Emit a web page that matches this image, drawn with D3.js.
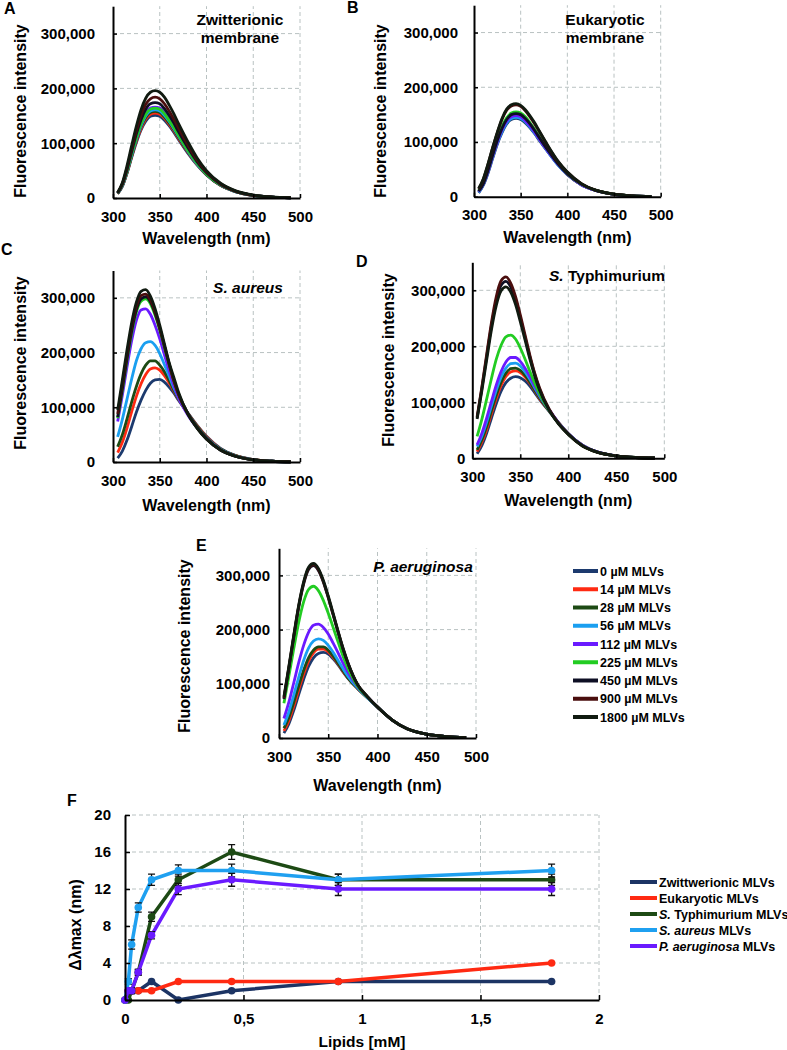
<!DOCTYPE html>
<html>
<head>
<meta charset="utf-8">
<script src="https://cdn.jsdelivr.net/npm/d3@7"></script>
<style>
  body { margin: 0; background: #fff; }
  text { font-family: "Liberation Sans", Arial, sans-serif; font-weight: bold; fill: #000; }
</style>
</head>
<body>
<svg id="fig" width="787" height="1050"></svg>
<script>
// ---- data: emission spectra (intensity in thousands) ----
const wavelengths = [305, 310, 315, 320, 325, 330, 335, 340, 345, 350, 355, 360, 365, 370, 380, 390, 400, 415, 430, 450, 470, 490];
const concLabels = ["0 µM MLVs", "14 µM MLVs", "28 µM MLVs", "56 µM MLVs", "112 µM MLVs", "225 µM MLVs", "450 µM MLVs", "900 µM MLVs", "1800 µM MLVs"];
const concColors = ["#1c3a6e", "#ff2a12", "#1d4a14", "#1a9ff0", "#6a1aff", "#22cc22", "#0e0f24", "#4a0e0e", "#101a10"];

const zwitterionic = [
  [8, 21, 45, 74, 101, 124, 140, 149, 151, 149, 142, 132, 120, 107, 82, 60, 42, 23, 12, 4.5, 1.5, 0.5],
  [8, 22, 46, 76, 104, 127, 144, 153, 155, 153, 146, 135, 123, 109, 84, 61, 43, 23, 12, 4.5, 1.5, 0.5],
  [8, 22, 47, 77, 106, 130, 147, 156, 158, 156, 148, 137, 125, 111, 85, 62, 43, 23, 12, 4.5, 1.5, 0.5],
  [9, 23, 48, 79, 108, 132, 150, 159, 161, 159, 151, 140, 127, 113, 86, 62, 44, 24, 12, 4.5, 1.5, 0.5],
  [9, 24, 50, 82, 111, 136, 154, 164, 166, 164, 156, 144, 131, 116, 88, 64, 45, 24, 12.5, 4.8, 1.6, 0.5],
  [9, 24, 49, 81, 110, 135, 153, 162, 164, 162, 154, 142, 129, 115, 87, 63, 44, 24, 12.5, 4.8, 1.6, 0.5],
  [9, 25, 52, 85, 117, 143, 162, 172, 174, 172, 163, 151, 137, 121, 92, 66, 46, 25, 13, 5, 1.7, 0.5],
  [10, 26, 55, 90, 123, 151, 171, 181, 184, 181, 172, 159, 144, 128, 97, 69, 48, 26, 13, 5, 1.7, 0.5],
  [10, 28, 59, 96, 131, 161, 182, 193, 196, 193, 184, 170, 154, 136, 103, 73, 50, 27, 14, 5.5, 1.8, 0.6]
];
const eukaryotic = [
  [7, 21, 43, 70, 96, 117, 133, 141, 143, 141, 135, 126, 115, 103, 80, 58, 40, 22, 11.5, 4.3, 1.5, 0.5],
  [9, 23, 46, 74, 100, 122, 137, 145, 147, 145, 138, 129, 118, 105, 81, 59, 41, 22, 11.5, 4.3, 1.5, 0.5],
  [9, 23, 47, 75, 102, 124, 140, 148, 150, 148, 141, 131, 120, 107, 82, 59, 41, 22, 11.5, 4.3, 1.5, 0.5],
  [8, 22, 45, 72, 98, 119, 135, 143, 145, 143, 137, 127, 116, 104, 80, 58, 41, 22, 11.5, 4.3, 1.5, 0.5],
  [9, 23, 46, 74, 100, 122, 138, 146, 148, 146, 139, 129, 118, 105, 81, 59, 41, 22, 11.5, 4.3, 1.5, 0.5],
  [11, 25, 50, 78, 105, 128, 144, 153, 155, 153, 146, 135, 123, 110, 84, 61, 42, 23, 12, 4.5, 1.5, 0.5],
  [10, 24, 48, 76, 103, 125, 141, 150, 152, 150, 143, 133, 121, 108, 83, 60, 42, 23, 12, 4.5, 1.5, 0.5],
  [14, 32, 59, 89, 117, 141, 158, 166, 168, 165, 157, 146, 133, 119, 90, 64, 45, 24, 12, 4.5, 1.5, 0.5],
  [15, 33, 60, 90, 118, 143, 160, 168, 170, 167, 159, 148, 135, 120, 91, 65, 45, 24, 12, 4.5, 1.5, 0.5]
];
const sAureus = [
  [7, 20, 40, 65, 91, 113, 131, 144, 150, 151, 146, 137, 126, 113, 90, 67, 47, 25, 12.5, 4.5, 1.5, 0.5],
  [17, 36, 62, 92, 120, 143, 160, 170, 172, 168, 158, 145, 130, 115, 89, 66, 46, 24, 12, 4.3, 1.5, 0.5],
  [28, 50, 79, 110, 138, 161, 177, 185, 185, 177, 165, 149, 132, 116, 89, 65, 45, 24, 12, 4.3, 1.5, 0.5],
  [46, 78, 115, 152, 185, 207, 218, 220, 213, 198, 178, 157, 136, 117, 88, 63, 44, 23, 11.5, 4.2, 1.4, 0.5],
  [74, 122, 174, 222, 259, 278, 280, 270, 250, 225, 196, 167, 140, 118, 86, 62, 42, 22, 11, 4, 1.4, 0.5],
  [80, 131, 186, 236, 274, 294, 298, 289, 268, 241, 209, 178, 148, 124, 88, 62, 42, 22, 11, 4, 1.4, 0.5],
  [82, 134, 189, 240, 278, 298, 302, 293, 272, 244, 212, 180, 150, 125, 89, 63, 43, 22, 11, 4, 1.4, 0.5],
  [88, 142, 197, 247, 284, 304, 307, 296, 274, 245, 212, 179, 149, 124, 88, 62, 42, 22, 11, 4, 1.4, 0.5],
  [95, 150, 205, 255, 292, 312, 315, 303, 280, 250, 216, 182, 155, 128, 88, 62, 42, 22, 11, 4, 1.4, 0.5]
];
const sTyphimurium = [
  [8, 23, 45, 72, 98, 120, 135, 143, 146, 144, 138, 129, 117, 105, 84, 63, 44, 23, 11.5, 4.4, 1.5, 0.5],
  [12, 29, 52, 80, 107, 130, 146, 154, 156, 153, 145, 134, 121, 107, 85, 63, 44, 23, 11.5, 4.3, 1.5, 0.5],
  [15, 33, 57, 85, 113, 136, 152, 160, 161, 157, 148, 136, 122, 108, 85, 63, 44, 23, 11.5, 4.3, 1.5, 0.5],
  [21, 40, 65, 94, 122, 145, 161, 169, 170, 165, 154, 141, 126, 111, 86, 63, 44, 23, 11.5, 4.3, 1.5, 0.5],
  [24, 45, 72, 102, 131, 155, 172, 180, 180, 173, 161, 146, 129, 113, 87, 63, 44, 23, 11.5, 4.3, 1.5, 0.5],
  [39, 70, 106, 143, 177, 202, 217, 220, 213, 197, 177, 155, 134, 115, 86, 62, 43, 22, 11, 4.2, 1.4, 0.5],
  [72, 125, 182, 237, 282, 309, 316, 306, 283, 251, 216, 181, 150, 124, 87, 62, 43, 22, 11, 4.2, 1.4, 0.5],
  [74, 128, 186, 243, 289, 317, 324, 313, 289, 256, 220, 184, 152, 126, 88, 62, 43, 22, 11, 4.2, 1.4, 0.5],
  [70, 121, 176, 230, 273, 299, 306, 297, 275, 244, 211, 177, 147, 122, 86, 61, 43, 22, 11, 4.2, 1.4, 0.5]
];
const pAeruginosa = [
  [9, 26, 51, 80, 108, 132, 148, 156, 158, 155, 146, 135, 122, 110, 91, 74, 57, 33, 17, 7, 2.5, 0.8],
  [13, 32, 59, 89, 118, 142, 157, 164, 164, 159, 149, 137, 123, 111, 91, 74, 57, 33, 17, 7, 2.5, 0.8],
  [18, 38, 66, 96, 125, 148, 162, 168, 168, 162, 151, 138, 124, 111, 91, 74, 57, 33, 17, 7, 2.5, 0.8],
  [24, 48, 79, 112, 143, 166, 179, 183, 180, 171, 158, 143, 128, 114, 92, 74, 57, 33, 17, 7, 2.5, 0.8],
  [36, 66, 102, 139, 171, 195, 208, 210, 204, 192, 175, 157, 138, 121, 94, 75, 57, 33, 17, 7, 2.5, 0.8],
  [64, 114, 165, 213, 251, 274, 280, 272, 254, 230, 204, 177, 151, 129, 95, 75, 57, 33, 17, 7, 2.5, 0.8],
  [72, 128, 186, 241, 284, 311, 318, 309, 288, 259, 227, 195, 164, 138, 98, 76, 57, 33, 17, 7, 2.5, 0.8],
  [74, 130, 188, 243, 286, 313, 320, 311, 289, 260, 228, 196, 165, 138, 98, 76, 57, 33, 17, 7, 2.5, 0.8],
  [76, 132, 190, 245, 288, 315, 322, 313, 291, 262, 230, 197, 166, 139, 98, 76, 57, 33, 17, 7, 2.5, 0.8]
];
const wavelengthTicks = [300, 350, 400, 450, 500];
const intensityTicks = [0, 100, 200, 300];

// ---- data: panel F, shift of emission maximum ----
const lipidsMM = [0, 0.014, 0.028, 0.056, 0.112, 0.225, 0.45, 0.9, 1.8];
const shiftColors = ["#1c3464", "#ff2a12", "#1d4a14", "#1fa0f0", "#6a1aff"];
const shiftZwit = [0, 1, 1, 1, 2, 0, 1, 2, 2];
const shiftEuk = [0, 1, 1, 1, 1, 2, 2, 2, 4];
const shiftTyph = [0, 0, 1, 3, 9, 13, 16, 13, 13];
const shiftAureus = [0, 2, 6, 10, 13, 14, 14, 13, 14];
const shiftAerug = [0, 1, 1, 3, 7, 12, 13, 12, 12];
const errZwit = [0, 0, 0, 0, 0, 0, 0, 0, 0];
const errEuk = [0, 0, 0, 0, 0, 0, 0, 0, 0];
const errTyph = [0, 0, 0.3, 0.3, 0.5, 0.6, 0.8, 0.6, 0.6];
const errAureus = [0, 0.3, 0.5, 0.5, 0.6, 0.6, 0.7, 0.6, 0.7];
const errAerug = [0, 0, 0.3, 0.3, 0.4, 0.6, 0.7, 0.7, 0.7];
const shiftTicks = [0, 4, 8, 12, 16, 20];
const lipidTicks = [0, 0.5, 1, 1.5, 2];

const svg = d3.select("#fig");
const gridColor = "#b9c2c2";

function richText(sel, parts) {
  parts.forEach(p => {
    sel.append("tspan").attr("font-style", p[1] ? "italic" : "normal").text(p[0]);
  });
}

const panels = [
  { letter: "A", lx: 4, ly: 14, data: zwitterionic, left: 113, right: 300, bottom: 198, top: 6.2, pad: 18,
    ytx: 20, yty: 111, xty: 244, notes: [{ x: 240, y: 25, parts: [["Zwitterionic", 0]] }, { x: 240, y: 43, parts: [["membrane", 0]] }] },
  { letter: "B", lx: 347, ly: 13, data: eukaryotic, left: 474, right: 660.7, bottom: 196.7, top: 5.2, pad: 16,
    ytx: 380, yty: 111, xty: 243, notes: [{ x: 605, y: 25, parts: [["Eukaryotic", 0]] }, { x: 605, y: 43, parts: [["membrane", 0]] }] },
  { letter: "C", lx: 1, ly: 255, data: sAureus, left: 113, right: 300, bottom: 462, top: 270.5, pad: 18,
    ytx: 20, yty: 363, xty: 511, notes: [{ x: 248, y: 293, parts: [["S. aureus", 1]] }] },
  { letter: "D", lx: 356, ly: 267, data: sTyphimurium, left: 472.3, right: 664.3, bottom: 458.3, top: 262.3, pad: 7,
    ytx: 388, yty: 360, xty: 506, notes: [{ x: 607, y: 281, parts: [["S.", 1], [" Typhimurium", 0]] }] },
  { letter: "E", lx: 196, ly: 551, data: pAeruginosa, left: 279, right: 476, bottom: 738, top: 548.3, pad: 9,
    ytx: 184, yty: 646, xty: 791, notes: [{ x: 423, y: 572, parts: [["P. aeruginosa", 1]] }] }
];

function styleAxis(g) {
  g.select(".domain").attr("stroke", "#000").attr("stroke-width", 2);
  g.selectAll(".tick line").attr("stroke", "#000").attr("stroke-width", 1.5);
  g.selectAll(".tick text").style("font-size", "15px").style("font-weight", "bold").attr("fill", "#000")
    .style("font-family", '"Liberation Sans", Arial, sans-serif');
}

panels.forEach(p => {
  const x = d3.scaleLinear().domain([300, 500]).range([p.left, p.right]);
  const y = d3.scaleLinear().domain([0, 350]).range([p.bottom, p.top]);
  const g = svg.append("g");

  g.selectAll(".vgrid").data(wavelengthTicks.slice(1)).join("line")
    .attr("x1", d => x(d)).attr("x2", d => x(d))
    .attr("y1", y(0)).attr("y2", y(350))
    .attr("stroke", gridColor).attr("stroke-width", 1).attr("stroke-dasharray", "4,3");
  g.selectAll(".hgrid").data(intensityTicks.slice(1)).join("line")
    .attr("x1", x(300)).attr("x2", x(500))
    .attr("y1", d => y(d)).attr("y2", d => y(d))
    .attr("stroke", gridColor).attr("stroke-width", 1).attr("stroke-dasharray", "4,3");

  const line = d3.line()
    .x((d, i) => x(wavelengths[i]))
    .y(d => y(d))
    .curve(d3.curveMonotoneX);
  g.selectAll(".curve").data(p.data).join("path")
    .attr("fill", "none")
    .attr("stroke", (d, i) => concColors[i])
    .attr("stroke-width", 2.8)
    .attr("d", line);

  g.append("g")
    .attr("transform", "translate(0," + p.bottom + ")")
    .call(d3.axisBottom(x).tickValues(wavelengthTicks).tickSizeInner(-4).tickSizeOuter(0).tickPadding(13))
    .call(styleAxis);
  g.append("g")
    .attr("transform", "translate(" + p.left + ",0)")
    .call(d3.axisLeft(y).tickValues(intensityTicks).tickSizeInner(-4).tickSizeOuter(0).tickPadding(p.pad)
      .tickFormat(d => d3.format(",")(d * 1000)))
    .call(styleAxis);

  g.append("text").attr("x", p.lx).attr("y", p.ly).style("font-size", "16px").text(p.letter);
  g.append("text")
    .attr("transform", "translate(" + p.ytx + "," + p.yty + ") rotate(-90)")
    .attr("dy", "0.35em")
    .style("text-anchor", "middle").style("font-size", "16px")
    .text("Fluorescence intensity");
  g.append("text")
    .attr("x", (p.left + p.right) / 2).attr("y", p.xty)
    .style("text-anchor", "middle").style("font-size", "16px")
    .text("Wavelength (nm)");
  p.notes.forEach(n => {
    const t = g.append("text").attr("x", n.x).attr("y", n.y)
      .style("text-anchor", "middle").style("font-size", "15.5px");
    richText(t, n.parts);
  });
});

// legend for spectra
const specLegend = svg.append("g");
concLabels.forEach((lab, i) => {
  const yy = 571 + i * 18.25;
  specLegend.append("line").attr("x1", 573).attr("x2", 598).attr("y1", yy).attr("y2", yy)
    .attr("stroke", concColors[i]).attr("stroke-width", 4);
  specLegend.append("text").attr("x", 600).attr("y", yy).attr("dy", "0.36em")
    .style("font-size", "12.5px").text(lab);
});

// ---- panel F ----
const fx = d3.scaleLinear().domain([0, 2]).range([125, 599]);
const fy = d3.scaleLinear().domain([0, 20]).range([1000, 815]);
const f = svg.append("g");

f.selectAll(".vgrid").data(lipidTicks.slice(1)).join("line")
  .attr("x1", d => fx(d)).attr("x2", d => fx(d)).attr("y1", fy(0)).attr("y2", fy(20))
  .attr("stroke", gridColor).attr("stroke-width", 1).attr("stroke-dasharray", "4,3");
f.selectAll(".hgrid").data(shiftTicks.slice(1)).join("line")
  .attr("x1", fx(0)).attr("x2", fx(2)).attr("y1", d => fy(d)).attr("y2", d => fy(d))
  .attr("stroke", gridColor).attr("stroke-width", 1).attr("stroke-dasharray", "4,3");

const shiftSeries = [
  { values: shiftZwit, err: errZwit },
  { values: shiftEuk, err: errEuk },
  { values: shiftTyph, err: errTyph },
  { values: shiftAureus, err: errAureus },
  { values: shiftAerug, err: errAerug }
];
const fline = d3.line().x((d, i) => fx(lipidsMM[i])).y(d => fy(d));

shiftSeries.forEach((s, k) => {
  const sg = f.append("g");
  sg.append("path").datum(s.values)
    .attr("fill", "none").attr("stroke", shiftColors[k]).attr("stroke-width", 3.5)
    .attr("d", fline);
  const pts = s.values.map((v, i) => ({ x: lipidsMM[i], v: v, e: s.err[i] }));
  sg.selectAll(".err").data(pts.filter(d => d.e > 0)).join("path")
    .attr("fill", "none").attr("stroke", "#111").attr("stroke-width", 1.3)
    .attr("d", d => {
      const cx = fx(d.x), y1 = fy(d.v + d.e), y2 = fy(d.v - d.e);
      return "M" + (cx - 3.5) + "," + y1 + "H" + (cx + 3.5) + "M" + cx + "," + y1 + "V" + y2 +
        "M" + (cx - 3.5) + "," + y2 + "H" + (cx + 3.5);
    });
  sg.selectAll(".dot").data(pts).join("circle")
    .attr("cx", d => fx(d.x)).attr("cy", d => fy(d.v)).attr("r", 3.8)
    .attr("fill", shiftColors[k]);
});

f.append("g")
  .attr("transform", "translate(0," + fy(0) + ")")
  .call(d3.axisBottom(fx).tickValues(lipidTicks).tickSizeInner(-5).tickSizeOuter(0).tickPadding(13)
    .tickFormat(d => String(d).replace(".", ",")))
  .call(styleAxis);
f.append("g")
  .attr("transform", "translate(" + fx(0) + ",0)")
  .call(d3.axisLeft(fy).tickValues(shiftTicks).tickSizeInner(-5).tickSizeOuter(0).tickPadding(14))
  .call(styleAxis);

f.append("text").attr("x", 67).attr("y", 806).style("font-size", "16px").text("F");
f.append("text")
  .attr("transform", "translate(75,925) rotate(-90)").attr("dy", "0.35em")
  .style("text-anchor", "middle").style("font-size", "16px").text("Δλmax (nm)");
f.append("text").attr("x", 362).attr("y", 1047)
  .style("text-anchor", "middle").style("font-size", "15.5px").text("Lipids [mM]");

// legend for panel F
const shiftLegendParts = [
  [["Zwittwerionic MLVs", 0]],
  [["Eukaryotic MLVs", 0]],
  [["S.", 1], [" Typhimurium MLVs", 0]],
  [["S. aureus", 1], [" MLVs", 0]],
  [["P. aeruginosa", 1], [" MLVs", 0]]
];
shiftLegendParts.forEach((parts, i) => {
  const yy = 882 + i * 16;
  f.append("line").attr("x1", 630).attr("x2", 657).attr("y1", yy).attr("y2", yy)
    .attr("stroke", shiftColors[i]).attr("stroke-width", 4);
  const t = f.append("text").attr("x", 659).attr("y", yy).attr("dy", "0.36em").style("font-size", "12.5px");
  richText(t, parts);
});
</script>
</body>
</html>
